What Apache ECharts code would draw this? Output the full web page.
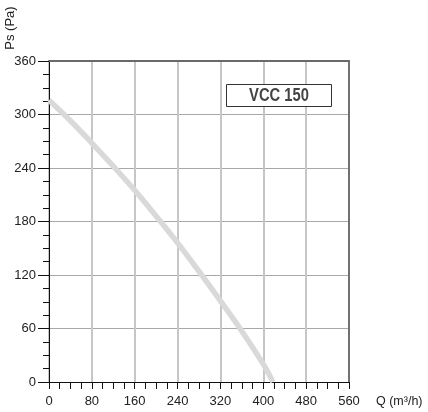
<!DOCTYPE html>
<html>
<head>
<meta charset="utf-8">
<script src="https://cdn.jsdelivr.net/npm/echarts@6/dist/echarts.min.js"></script>
<style>
  html, body { margin: 0; padding: 0; background: #fff; }
  #chart { width: 428px; height: 412px; }
</style>
</head>
<body>
<div id="chart"></div>
<script>
// 风量 Q (m³/h) 与静压 Ps (Pa)
var flowQ = [0, 40, 80, 120, 160, 200, 240, 280, 320, 360, 400, 418];
var pressPs = [316, 293, 268, 242, 215, 186, 156, 124, 91, 57, 20, 0];
var modelName = 'VCC 150';

var myChart = echarts.init(document.getElementById('chart'));
var font = 'Liberation Sans, Arial, sans-serif';

var option = {
    animation: false,
    grid: { left: 49, right: 79, top: 61, bottom: 30 },
    xAxis: [
        {
            type: 'value',
            min: 0, max: 560, interval: 80,
            name: 'Q (m³/h)',
            nameLocation: 'end',
            nameGap: 27,
            nameTextStyle: { color: '#222', fontSize: 12.5, fontFamily: font, verticalAlign: 'top', padding: [13, 0, 0, 0] },
            axisLine: { onZero: false, lineStyle: { color: '#111', width: 1 } },
            axisTick: { show: true, length: 7, lineStyle: { color: '#111' } },
            minorTick: { show: true, splitNumber: 4, length: 7, lineStyle: { color: '#111' } },
            axisLabel: { color: '#222', fontSize: 13, fontFamily: font, margin: 13 },
            splitLine: { show: true, lineStyle: { color: '#c6c6c6', width: 2 } }
        },
        {
            type: 'value', position: 'top',
            min: 0, max: 560, interval: 80,
            axisLine: { show: true, onZero: false, lineStyle: { color: '#6a6a6a', width: 2 } },
            axisTick: { show: false },
            axisLabel: { show: false },
            splitLine: { show: false }
        }
    ],
    yAxis: [
        {
            type: 'value',
            min: 0, max: 360, interval: 60,
            axisLine: { show: true, onZero: false, lineStyle: { color: '#111', width: 1 } },
            axisTick: { show: true, length: 11, lineStyle: { color: '#111' } },
            minorTick: { show: true, splitNumber: 4, length: 6, lineStyle: { color: '#111' } },
            axisLabel: { color: '#222', fontSize: 13, fontFamily: font, margin: 13 },
            splitLine: { show: true, lineStyle: { color: '#a8a8a8', width: 1 } }
        },
        {
            type: 'value', position: 'right',
            min: 0, max: 360, interval: 60,
            axisLine: { show: true, onZero: false, lineStyle: { color: '#555', width: 1.5 } },
            axisTick: { show: false },
            axisLabel: { show: false },
            splitLine: { show: false }
        }
    ],
    graphic: [
        {
            type: 'text', x: 10, y: 28, rotation: Math.PI / 2,
            style: { text: 'Ps (Pa)', fill: '#222', font: '13px ' + font, align: 'center', verticalAlign: 'middle' }
        },
        {
            type: 'rect', shape: { x: 226.5, y: 84.5, width: 105, height: 22 },
            style: { fill: '#fff', stroke: '#333', lineWidth: 1 }, z: 10
        },
        {
            type: 'text', x: 279, y: 96, z: 11, scaleX: 0.82,
            style: { text: modelName, fill: '#444', font: 'bold 18px ' + font, align: 'center', verticalAlign: 'middle' }
        }
    ],
    series: [
        {
            type: 'line',
            smooth: 0.4,
            symbol: 'none',
            lineStyle: { color: '#d9d9d9', width: 5.5 },
            data: flowQ.map(function (q, i) { return [q, pressPs[i]]; })
        }
    ]
};
myChart.setOption(option);
</script>
</body>
</html>
